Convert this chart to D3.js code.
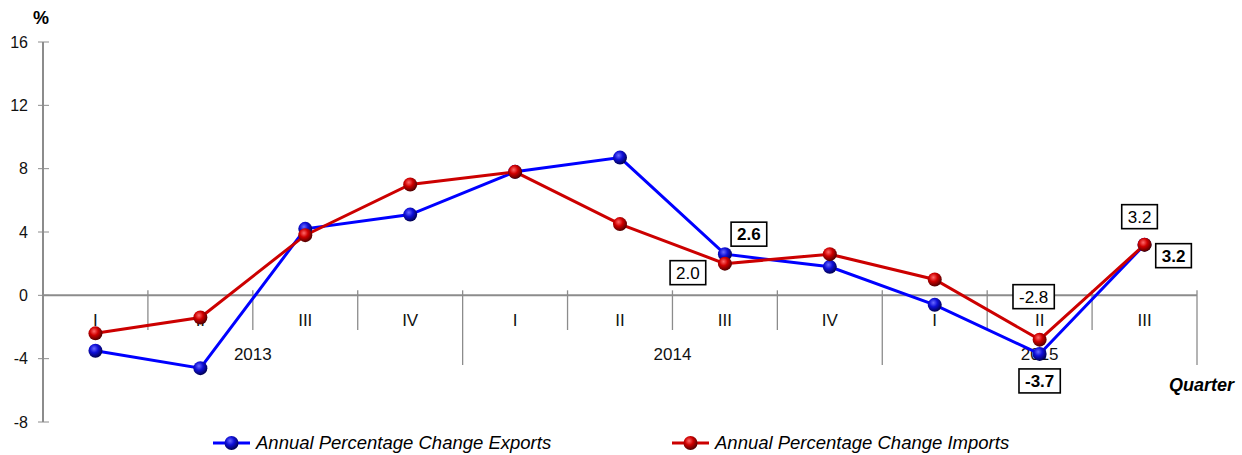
<!DOCTYPE html>
<html>
<head>
<meta charset="utf-8">
<script src="https://cdn.jsdelivr.net/npm/d3@7"></script>
<style>
  body { margin: 0; background: #fff; }
  svg { font-family: "Liberation Sans", Arial, sans-serif; }
</style>
</head>
<body>
<div id="chart"></div>
<script>
// data
const quarters = ['I', 'II', 'III', 'IV', 'I', 'II', 'III', 'IV', 'I', 'II', 'III'];
const years = [
  {label: '2013', from: 0, to: 4},
  {label: '2014', from: 4, to: 8},
  {label: '2015', from: 8, to: 11}
];
const exportsVals = [-3.5, -4.6, 4.2, 5.1, 7.8, 8.7, 2.6, 1.8, -0.6, -3.7, 3.2];
const importsVals = [-2.4, -1.4, 3.8, 7.0, 7.8, 4.5, 2.0, 2.6, 1.0, -2.8, 3.2];
const yTicks = [-8, -4, 0, 4, 8, 12, 16];

// labelled points: [index, dx, dy]
const exportLabels = [[6, 24, -20], [9, 0, 27], [10, 29, 11]];
const importLabels = [[6, -37, 9], [9, -6, -43], [10, -5, -28]];

const width = 1242, height = 455;
const x0 = 43, x1 = 1197;

const svg = d3.select('#chart').append('svg')
  .attr('width', width).attr('height', height);

const x = d3.scaleBand().domain(d3.range(quarters.length)).range([x0, x1]);
const y = d3.scaleLinear().domain([-8, 16]).range([422, 42]);

// gradients for sphere markers
const defs = svg.append('defs');
function sphere(id, light, mid, dark) {
  const g = defs.append('radialGradient').attr('id', id)
    .attr('cx', '40%').attr('cy', '35%').attr('r', '65%');
  g.append('stop').attr('offset', '0%').attr('stop-color', light);
  g.append('stop').attr('offset', '45%').attr('stop-color', mid);
  g.append('stop').attr('offset', '100%').attr('stop-color', dark);
}
sphere('blueBall', '#6a6aff', '#1010d8', '#000050');
sphere('redBall', '#ff6a6a', '#d00000', '#500000');

const axisColor = '#8c8c8c';

// y axis
svg.append('line')
  .attr('x1', x0).attr('x2', x0).attr('y1', y(16)).attr('y2', y(-8))
  .attr('stroke', axisColor).attr('stroke-width', 2);

const yt = svg.selectAll('.ytick').data(yTicks).enter().append('g')
  .attr('transform', d => `translate(0,${y(d)})`);
yt.append('line').attr('x1', x0 - 5).attr('x2', x0 + 6)
  .attr('stroke', axisColor).attr('stroke-width', 1);
yt.append('text').attr('x', 28).attr('dy', '0.35em')
  .attr('text-anchor', 'end').attr('font-size', 16).attr('fill', '#111')
  .text(d => d);

svg.append('text').attr('x', 41).attr('y', 24).attr('text-anchor', 'middle')
  .attr('font-size', 18).attr('font-weight', 'bold').text('%');

// zero line
svg.append('line')
  .attr('x1', x0).attr('x2', x1).attr('y1', y(0)).attr('y2', y(0))
  .attr('stroke', axisColor).attr('stroke-width', 2);

// category separators
const yearEdges = years.map(d => d.to);
svg.selectAll('.sep').data(d3.range(1, quarters.length + 1)).enter().append('line')
  .attr('x1', d => x0 + d * x.step()).attr('x2', d => x0 + d * x.step())
  .attr('y1', y(0) - 5)
  .attr('y2', d => yearEdges.includes(d) ? 365 : 330)
  .attr('stroke', axisColor).attr('stroke-width', 1.3);

// quarter labels
svg.selectAll('.ql').data(quarters).enter().append('text')
  .attr('x', (d, i) => x(i) + x.bandwidth() / 2).attr('y', 326)
  .attr('text-anchor', 'middle').attr('font-size', 17).attr('fill', '#111')
  .text(d => d);

// year labels
svg.selectAll('.yl').data(years).enter().append('text')
  .attr('x', d => x0 + (d.from + d.to) / 2 * x.step()).attr('y', 360)
  .attr('text-anchor', 'middle').attr('font-size', 17).attr('fill', '#111')
  .text(d => d.label);

svg.append('text').attr('x', 1234).attr('y', 391).attr('text-anchor', 'end')
  .attr('font-size', 18).attr('font-weight', 'bold').attr('font-style', 'italic')
  .text('Quarter');

// series
const cx = i => x(i) + x.bandwidth() / 2;
const line = d3.line().x((d, i) => cx(i)).y(d => y(d));

const series = [
  {vals: exportsVals, color: '#0000ff', ball: 'blueBall'},
  {vals: importsVals, color: '#cc0000', ball: 'redBall'}
];

series.forEach(s => {
  svg.append('path').datum(s.vals).attr('d', line)
    .attr('fill', 'none').attr('stroke', s.color).attr('stroke-width', 3);
});
series.forEach(s => {
  svg.selectAll(null).data(s.vals).enter().append('circle')
    .attr('cx', (d, i) => cx(i)).attr('cy', d => y(d)).attr('r', 7)
    .attr('fill', `url(#${s.ball})`);
});

// data labels
function addLabels(list, vals, bold) {
  list.forEach(([i, dx, dy]) => {
    const g = svg.append('g')
      .attr('transform', `translate(${cx(i) + dx},${y(vals[i]) + dy})`);
    const t = g.append('text').attr('text-anchor', 'middle').attr('dy', '0.36em')
      .attr('font-size', 17).attr('font-weight', bold ? 'bold' : 'normal')
      .text(vals[i].toFixed(1));
    const w = t.node().getComputedTextLength() + 12;
    g.insert('rect', 'text').attr('x', -w / 2).attr('y', -12).attr('width', w).attr('height', 24)
      .attr('fill', '#fff').attr('stroke', '#000').attr('stroke-width', 1.6);
  });
}
addLabels(exportLabels, exportsVals, true);
addLabels(importLabels, importsVals, false);

// legend
const legend = [
  {text: 'Annual Percentage Change Exports', x: 213, s: series[0]},
  {text: 'Annual Percentage Change Imports', x: 672, s: series[1]}
];
legend.forEach(l => {
  const g = svg.append('g').attr('transform', `translate(${l.x},443)`);
  g.append('line').attr('x1', 0).attr('x2', 37).attr('stroke', l.s.color).attr('stroke-width', 3);
  g.append('circle').attr('cx', 18.5).attr('r', 7).attr('fill', `url(#${l.s.ball})`);
  g.append('text').attr('x', 43).attr('dy', '0.35em').attr('font-size', 18.5)
    .attr('font-style', 'italic').text(l.text);
});
</script>
</body>
</html>
